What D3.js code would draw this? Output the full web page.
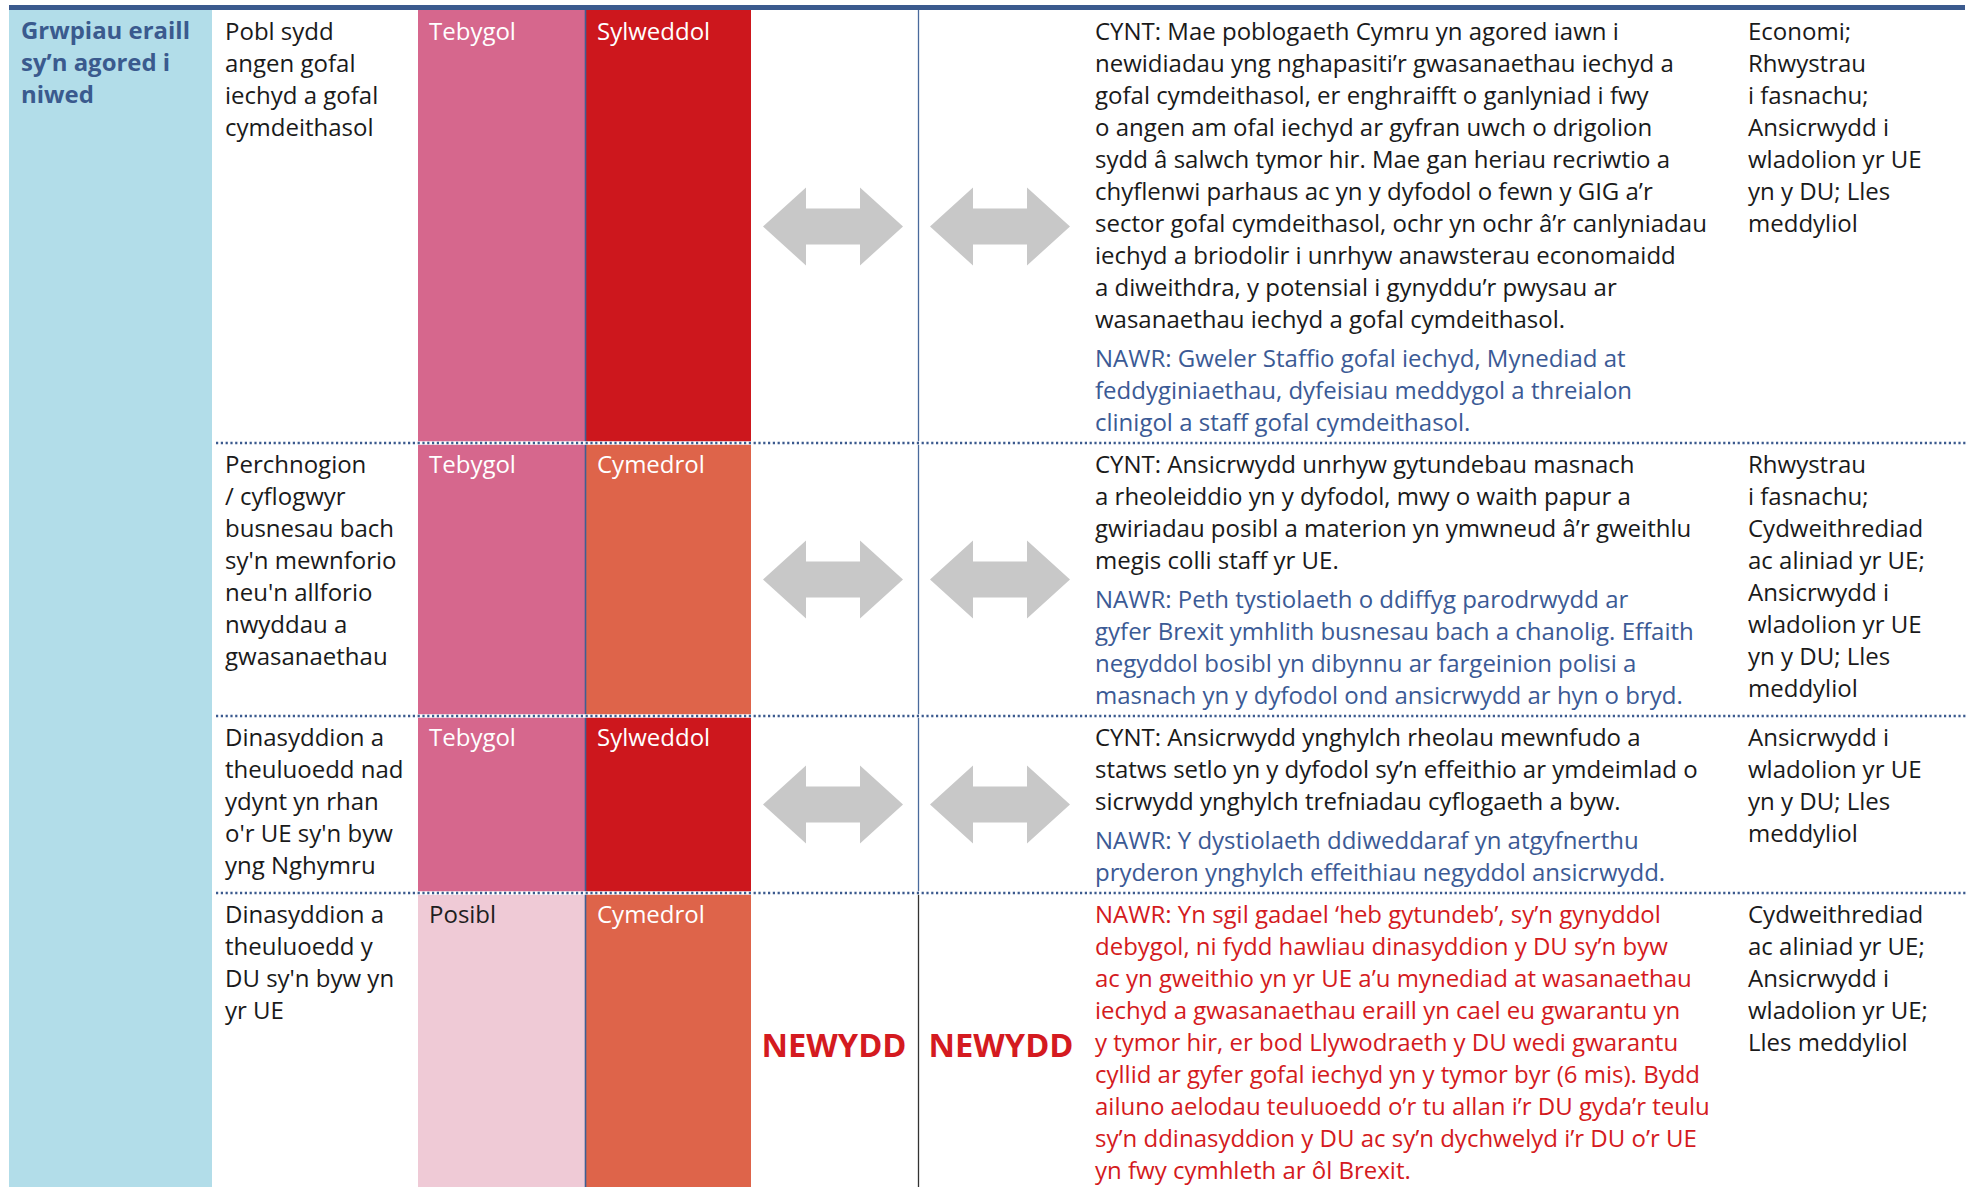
<!DOCTYPE html>
<html><head><meta charset="utf-8">
<script src="https://cdn.jsdelivr.net/npm/d3@7"></script>
<style>body{margin:0;background:#fff;overflow:hidden}</style>
</head><body><svg id="c" width="1970" height="1187"></svg>
<script>
const groupTitle = ["Grwpiau eraill", "sy’n agored i", "niwed"];
const groups = [
  ["Pobl sydd", "angen gofal", "iechyd a gofal", "cymdeithasol"],
  ["Perchnogion", "/ cyflogwyr", "busnesau bach", "sy'n mewnforio", "neu'n allforio", "nwyddau a", "gwasanaethau"],
  ["Dinasyddion a", "theuluoedd nad", "ydynt yn rhan", "o'r UE sy'n byw", "yng Nghymru"],
  ["Dinasyddion a", "theuluoedd y", "DU sy'n byw yn", "yr UE"]
];
const likelihood = ["Tebygol", "Tebygol", "Tebygol", "Posibl"];
const impactLevel = ["Sylweddol", "Cymedrol", "Sylweddol", "Cymedrol"];
const trendA = ["stable", "stable", "stable", "new"];
const trendB = ["stable", "stable", "stable", "new"];
const newLabel = "NEWYDD";
const before = [
  ["CYNT: Mae poblogaeth Cymru yn agored iawn i",
   "newidiadau yng nghapasiti’r gwasanaethau iechyd a",
   "gofal cymdeithasol, er enghraifft o ganlyniad i fwy",
   "o angen am ofal iechyd ar gyfran uwch o drigolion",
   "sydd â salwch tymor hir. Mae gan heriau recriwtio a",
   "chyflenwi parhaus ac yn y dyfodol o fewn y GIG a’r",
   "sector gofal cymdeithasol, ochr yn ochr â’r canlyniadau",
   "iechyd a briodolir i unrhyw anawsterau economaidd",
   "a diweithdra, y potensial i gynyddu’r pwysau ar",
   "wasanaethau iechyd a gofal cymdeithasol."],
  ["CYNT: Ansicrwydd unrhyw gytundebau masnach",
   "a rheoleiddio yn y dyfodol, mwy o waith papur a",
   "gwiriadau posibl a materion yn ymwneud â’r gweithlu",
   "megis colli staff yr UE."],
  ["CYNT: Ansicrwydd ynghylch rheolau mewnfudo a",
   "statws setlo yn y dyfodol sy’n effeithio ar ymdeimlad o",
   "sicrwydd ynghylch trefniadau cyflogaeth a byw."],
  []
];
const now = [
  ["NAWR: Gweler Staffio gofal iechyd, Mynediad at",
   "feddyginiaethau, dyfeisiau meddygol a threialon",
   "clinigol a staff gofal cymdeithasol."],
  ["NAWR: Peth tystiolaeth o ddiffyg parodrwydd ar",
   "gyfer Brexit ymhlith busnesau bach a chanolig. Effaith",
   "negyddol bosibl yn dibynnu ar fargeinion polisi a",
   "masnach yn y dyfodol ond ansicrwydd ar hyn o bryd."],
  ["NAWR: Y dystiolaeth ddiweddaraf yn atgyfnerthu",
   "pryderon ynghylch effeithiau negyddol ansicrwydd."],
  ["NAWR: Yn sgil gadael ‘heb gytundeb’, sy’n gynyddol",
   "debygol, ni fydd hawliau  dinasyddion y DU sy’n byw",
   "ac yn gweithio yn yr UE a’u mynediad at wasanaethau",
   "iechyd a gwasanaethau eraill yn cael eu gwarantu yn",
   "y tymor hir, er bod Llywodraeth y DU wedi gwarantu",
   "cyllid ar gyfer gofal iechyd yn y tymor byr (6 mis). Bydd",
   "ailuno aelodau teuluoedd o’r tu allan i’r DU gyda’r teulu",
   "sy’n ddinasyddion y DU ac sy’n dychwelyd i’r DU o’r UE",
   "yn fwy cymhleth ar ôl Brexit."]
];
const nowIsNew = [false, false, false, true];
const links = [
  ["Economi;", "Rhwystrau", "i fasnachu;", "Ansicrwydd i", "wladolion yr UE", "yn y DU; Lles", "meddyliol"],
  ["Rhwystrau", "i fasnachu;", "Cydweithrediad", "ac aliniad yr UE;", "Ansicrwydd i", "wladolion yr UE", "yn y DU; Lles", "meddyliol"],
  ["Ansicrwydd i", "wladolion yr UE", "yn y DU; Lles", "meddyliol"],
  ["Cydweithrediad", "ac aliniad yr UE;", "Ansicrwydd i", "wladolion yr UE;", "Lles meddyliol"]
];

const FONT = "'Open Sans', 'Noto Sans', sans-serif";
const svg = d3.select("#c");
const W = 1970, H = 1187;

function measure(txt, weight, size) {
  const t = svg.append("text").attr("font-family", FONT).attr("font-weight", weight)
    .attr("font-size", size).text(txt);
  const w = t.node().getComputedTextLength(); t.remove(); return w;
}
const fs = Math.max(18, Math.min(24, 100 * 614 / measure(before[0][6], 400, 100)));
const fsB = Math.max(18, Math.min(24, 100 * 169 / measure(groupTitle[0], 700, 100)));
const fsN = Math.max(28, Math.min(40, 100 * 145 / measure(newLabel, 700, 100)));

const LH = 32, TOP = 10, PADT = 30, PADB = 12, GAP = 7;
const col = {
  g0: [9, 212], g1: [212, 418], lik: [418, 585], sev: [585, 751],
  a1: [751, 918], a2: [918, 1095], txt: [1095, 1740], lnk: [1740, 1965]
};

const rows = groups.map((g, i) => {
  const nb = before[i].length, nn = now[i].length;
  const textH = (nb + nn - 1) * LH + (nb && nn ? GAP : 0);
  const n = Math.max(textH, (g.length - 1) * LH, (links[i].length - 1) * LH);
  return PADT + n + PADB;
});
const y0 = [TOP];
rows.forEach((h, i) => y0.push(i === rows.length - 1 ? H : y0[i] + h));
const yScale = d3.scaleOrdinal(d3.range(rows.length), y0.slice(0, -1));
const yEnd = i => y0[i + 1];

const likColor = d3.scaleOrdinal(["Tebygol", "Posibl"], ["#d6678d", "#efcad6"]);
const likText = d3.scaleOrdinal(["Tebygol", "Posibl"], ["#ffffff", "#1e1e1e"]);
const sevColor = d3.scaleOrdinal(["Sylweddol", "Cymedrol"], ["#cd171d", "#de644a"]);

svg.append("rect").attr("x", col.g0[0]).attr("y", TOP).attr("width", col.g0[1] - col.g0[0])
  .attr("height", H - TOP).attr("fill", "#b2dde9");
svg.append("g").selectAll("text").data(groupTitle).join("text")
  .attr("x", 21).attr("y", (d, i) => TOP + PADT - 1 + i * LH)
  .attr("font-family", FONT).attr("font-weight", 700).attr("font-size", fsB)
  .attr("fill", "#3a5a8e").text(d => d);

const R = svg.append("g").selectAll("g").data(groups).join("g");

R.append("rect").attr("x", col.lik[0]).attr("y", (d, i) => yScale(i))
  .attr("width", col.lik[1] - col.lik[0]).attr("height", (d, i) => yEnd(i) - yScale(i))
  .attr("fill", (d, i) => likColor(likelihood[i]));
R.append("rect").attr("x", col.sev[0]).attr("y", (d, i) => yScale(i))
  .attr("width", col.sev[1] - col.sev[0]).attr("height", (d, i) => yEnd(i) - yScale(i))
  .attr("fill", (d, i) => sevColor(impactLevel[i]));
R.append("text").attr("x", col.lik[0] + 11).attr("y", (d, i) => yScale(i) + PADT)
  .attr("font-family", FONT).attr("font-size", fs).attr("fill", (d, i) => likText(likelihood[i]))
  .text((d, i) => likelihood[i]);
R.append("text").attr("x", col.sev[0] + 12).attr("y", (d, i) => yScale(i) + PADT)
  .attr("font-family", FONT).attr("font-size", fs).attr("fill", "#ffffff")
  .text((d, i) => impactLevel[i]);

R.each(function (d, i) {
  const g = d3.select(this);
  const base = yScale(i) + PADT;
  g.selectAll("text.grp").data(d).join("text").attr("class", "grp")
    .attr("x", col.g1[0] + 13).attr("y", (t, k) => base + k * LH)
    .attr("font-family", FONT).attr("font-size", fs).attr("fill", "#1a1a1a").text(t => t);
  g.selectAll("text.bef").data(before[i]).join("text").attr("class", "bef")
    .attr("x", col.txt[0]).attr("y", (t, k) => base + k * LH)
    .attr("font-family", FONT).attr("font-size", fs).attr("fill", "#1a1a1a").text(t => t);
  const nb = before[i].length;
  const nBase = nb ? base + nb * LH + GAP : base;
  g.selectAll("text.now").data(now[i]).join("text").attr("class", "now")
    .attr("x", col.txt[0]).attr("y", (t, k) => nBase + k * LH)
    .attr("font-family", FONT).attr("font-size", fs)
    .attr("fill", nowIsNew[i] ? "#d41a20" : "#3b5a95").text(t => t);
  g.selectAll("text.lnk").data(links[i]).join("text").attr("class", "lnk")
    .attr("x", col.lnk[0] + 8).attr("y", (t, k) => base + k * LH)
    .attr("font-family", FONT).attr("font-size", fs).attr("fill", "#1a1a1a").text(t => t);
});

const arrowPath = (cx, cy) => {
  const hw = 70, hl = 43, hh = 39, sh = 18;
  const p = d3.path();
  p.moveTo(cx - hw, cy); p.lineTo(cx - hw + hl, cy - hh); p.lineTo(cx - hw + hl, cy - sh);
  p.lineTo(cx + hw - hl, cy - sh); p.lineTo(cx + hw - hl, cy - hh); p.lineTo(cx + hw, cy);
  p.lineTo(cx + hw - hl, cy + hh); p.lineTo(cx + hw - hl, cy + sh); p.lineTo(cx - hw + hl, cy + sh);
  p.lineTo(cx - hw + hl, cy + hh); p.closePath();
  return p.toString();
};
const trendCx = [833, 1000];
[trendA, trendB].forEach((tr, j) => {
  tr.forEach((t, i) => {
    const cy = (yScale(i) + yEnd(i)) / 2;
    if (t === "stable") {
      svg.append("path").attr("d", arrowPath(trendCx[j], cy)).attr("fill", "#c8c8c8");
    } else {
      svg.append("text").attr("x", trendCx[j] + 1).attr("y", cy + 17)
        .attr("text-anchor", "middle").attr("font-family", FONT).attr("font-weight", 700)
        .attr("font-size", fsN).attr("fill", "#d41a20").text(newLabel);
    }
  });
});

svg.append("line").attr("x1", 585.5).attr("x2", 585.5).attr("y1", TOP).attr("y2", H)
  .attr("stroke", "#3f5f92").attr("stroke-width", 1.6);
groups.forEach((g, i) => {
  svg.append("line").attr("x1", 918.5).attr("x2", 918.5).attr("y1", yScale(i)).attr("y2", yEnd(i))
    .attr("stroke", nowIsNew[i] ? "#333333" : "#4a6a9c").attr("stroke-width", 1.3);
});

y0.slice(1, -1).forEach(y => {
  svg.append("line").attr("x1", 216).attr("x2", 1966).attr("y1", y).attr("y2", y)
    .attr("stroke", "#ffffff").attr("stroke-width", 3.5);
  svg.append("line").attr("x1", 216).attr("x2", 1966).attr("y1", y).attr("y2", y)
    .attr("stroke", "#3b5a8e").attr("stroke-width", 2.4).attr("stroke-dasharray", "2.2 2.6");
});

svg.append("rect").attr("x", 9).attr("y", 5).attr("width", 1956).attr("height", 5).attr("fill", "#3b5a8e");
</script></body></html>
